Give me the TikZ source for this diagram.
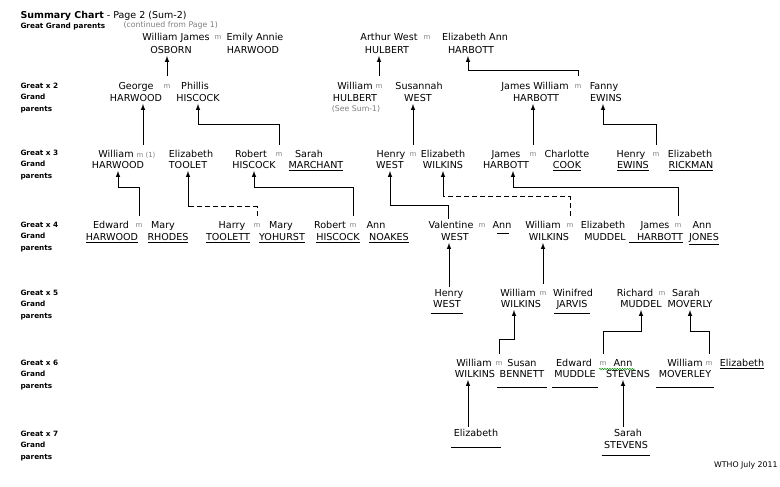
\documentclass[tikz,border=0pt]{standalone}
\usepackage{fontspec}
\setmainfont{DejaVu Sans}
\usetikzlibrary{decorations.pathmorphing}

\newcommand{\namesize}{\fontsize{9.6}{11}\selectfont}
\newcommand{\smallsize}{\fontsize{7.8}{9}\selectfont}

\begin{document}
\begin{tikzpicture}[x=1pt,y=-1pt,line width=1pt,
    person/.style={font=\namesize, inner sep=2pt, text height=7pt, text depth=0pt},
    wed/.style={font=\fontsize{7}{8}\selectfont, text=black!50, inner sep=0pt, minimum height=20pt},
    rowlabel/.style={font=\fontsize{7.3}{11.5}\selectfont\bfseries, align=left, anchor=west, inner sep=0pt},
    note/.style={font=\smallsize, text=gray, inner sep=0pt},
    link/.style={dash pattern=on 5pt off 3pt},
    spell/.style={draw=green!55!black, line width=0.5pt, decorate,
        decoration={snake, amplitude=0.6pt, segment length=2.5pt}}]
        \useasboundingbox (0,0) rectangle (780,487);
        %Title
        \node[anchor=west, inner sep=0pt] (title) at (20,16) {\fontsize{9.5}{11}\selectfont\textbf{Summary Chart} - Page 2 (Sum-2)};
        \node[rowlabel] (lab1) at (20,26) {Great Grand parents};
        \node[note, anchor=west] (contd) at (123,25) {(continued from Page 1)};
        \node[rowlabel] (lab2) at (20,98) {Great x 2\\Grand\\parents};
        \node[rowlabel] (lab3) at (20,165) {Great x 3\\Grand\\parents};
        \node[rowlabel] (lab4) at (20,237) {Great x 4\\Grand\\parents};
        \node[rowlabel] (lab5) at (20,305) {Great x 5\\Grand\\parents};
        \node[rowlabel] (lab6) at (20,375) {Great x 6\\Grand\\parents};
        \node[rowlabel] (lab7) at (20,446) {Great x 7\\Grand\\parents};
        \node[anchor=east, inner sep=0pt, font=\smallsize] (credit) at (778,465) {WTHO July 2011};
        % Great grand parents
        \node[person] (wjosborn) at (176,37) {William James};
        \node[wed] (m1) at (218,38) {m};
        \node[person] (eaharwood) at (255,37) {Emily Annie};
        \node[person] (osborn1) at (171,50) {OSBORN};
        \node[person] (harwood1) at (253,50) {HARWOOD};
        \node[person] (awhulbert) at (389,37) {Arthur West};
        \node[wed] (m2) at (427,38) {m};
        \node[person] (eaharbott) at (475,37) {Elizabeth Ann};
        \node[person] (hulbert1) at (387,50) {HULBERT};
        \node[person] (harbott1) at (471,50) {HARBOTT};
        % Great x 2
        \node[person] (george) at (136,86) {George};
        \node[wed] (m3) at (167,87) {m};
        \node[person] (phillis) at (195,86) {Phillis};
        \node[person] (harwood2) at (136,98) {HARWOOD};
        \node[person] (hiscock2) at (198,98) {HISCOCK};
        \node[person] (william2) at (355,86) {William};
        \node[wed] (m4) at (379,87) {m};
        \node[person] (susannah) at (419,86) {Susannah};
        \node[person] (hulbert2) at (355,98) {HULBERT};
        \node[person] (west2) at (418,98) {WEST};
        \node[note] (seesum) at (356,109) {(See Sum-1)};
        \node[person] (jwharbott) at (535,86) {James William};
        \node[wed] (m5) at (578,87) {m};
        \node[person] (fanny) at (604,86) {Fanny};
        \node[person] (harbott2) at (536,98) {HARBOTT};
        \node[person] (ewins2) at (606,98) {EWINS};
        \draw[-latex] (m3.north) -- (m3.north |- osborn1.south);
        \draw[-latex] (m4.north) -- (m4.north |- hulbert1.south);
        \draw[-latex] (m5.north) -- ++(0,-6) -| ([xshift=-3pt]harbott1.south);
        % Great x 3
        \node[person] (william3) at (116,154) {William};
        \node[wed] (m6) at (146,155) {m (1)};
        \node[person] (elizabeth3) at (191,154) {Elizabeth};
        \node[person] (harwood3) at (118,165) {HARWOOD};
        \node[person] (toolet3) at (188,165) {TOOLET};
        \node[person] (robert3) at (251,154) {Robert};
        \node[wed] (m7) at (279,155) {m};
        \node[person] (sarah3) at (309,154) {Sarah};
        \node[person] (hiscock3) at (254,165) {HISCOCK};
        \node[person] (marchant) at (316,165) {\underline{MARCHANT}};
        \node[person] (henry3) at (391,154) {Henry};
        \node[wed] (m8) at (413,155) {m};
        \node[person] (elizabeth3b) at (443,154) {Elizabeth};
        \node[person] (west3) at (390,165) {WEST};
        \node[person] (wilkins3) at (443,165) {WILKINS};
        \node[person] (james3) at (506,154) {James};
        \node[wed] (m9) at (533,155) {m};
        \node[person] (charlotte) at (567,154) {Charlotte};
        \node[person] (harbott3) at (506,165) {HARBOTT};
        \node[person] (cook) at (567,165) {\underline{COOK}};
        \node[person] (henry3b) at (631,154) {Henry};
        \node[wed] (m10) at (656,155) {m};
        \node[person] (elizabeth3c) at (690,154) {Elizabeth};
        \node[person] (ewins3) at (633,165) {\underline{EWINS}};
        \node[person] (rickman) at (691,165) {\underline{RICKMAN}};
        \draw[-latex] ([xshift=-3pt]m6.north) -- ([xshift=-3pt]m6.north |- harwood2.south);
        \draw[-latex] (m7.north) -- ++(0,-20) -| (hiscock2.south);
        \draw[-latex] (m8.north) -- (m8.north |- west2.south);
        \draw[-latex] (m9.north) -- (m9.north |- harbott2.south);
        \draw[-latex] (m10.north) -- ++(0,-20) -| ([xshift=-3pt]ewins2.south);
        % Great x 4
        \node[person] (edward4) at (111,225) {Edward};
        \node[wed] (m11) at (139,226) {m};
        \node[person] (mary4) at (163,225) {Mary};
        \node[person] (harwood4) at (112,237) {\underline{HARWOOD}};
        \node[person] (rhodes) at (168,237) {\underline{RHODES}};
        \node[person] (harry) at (232,225) {Harry};
        \node[wed] (m12) at (257,226) {m};
        \node[person] (mary4b) at (281,225) {Mary};
        \node[person] (toolett) at (228,237) {\underline{TOOLETT}};
        \node[person] (yohurst) at (282,237) {\underline{YOHURST}};
        \node[person] (robert4) at (330,225) {Robert};
        \node[wed] (m13) at (353,226) {m};
        \node[person] (ann4) at (376,225) {Ann};
        \node[person] (hiscock4) at (338,237) {\underline{HISCOCK}};
        \node[person] (noakes) at (389,237) {\underline{NOAKES}};
        \node[person] (valentine) at (451,225) {Valentine};
        \node[wed] (m14) at (482,226) {m};
        \node[person] (ann4b) at (502,225) {Ann};
        \node[person] (west4) at (455,237) {WEST};
        \draw ([shift={(-5pt,-2pt)}]ann4b.south) -- ([shift={(7pt,-2pt)}]ann4b.south);
        \node[person] (william4) at (543,225) {William};
        \node[wed] (m15) at (570,226) {m};
        \node[person] (elizabeth4) at (603,225) {Elizabeth};
        \node[person] (wilkins4) at (549,237) {WILKINS};
        \node[person] (muddel4) at (605,237) {MUDDEL};
        \node[person] (james4) at (655,225) {James};
        \node[wed] (m16) at (678,226) {m};
        \node[person] (ann4c) at (702,225) {Ann};
        \node[person] (harbott4) at (656,237) {\underline{\hspace{8pt}HARBOTT}};
        \node[person] (jones) at (704,237) {\underline{JONES}};
        \draw[-latex] (m11.north) -- ++(0,-28) -| (harwood3.south);
        \draw[link] (m12.north) -- ++(0,-9) coordinate (tbend) -- (tbend -| toolet3.south) coordinate (tcorner);
        \draw[-latex] (tcorner) -- (toolet3.south);
        \draw[-latex] (m13.north) -- ++(0,-28) -| (hiscock3.south);
        \draw[-latex] ([xshift=-3pt]valentine.north) -- ++(0,-14) -| (west3.south);
        \draw[link] (m15.north) -- ++(0,-19) coordinate (wbend) -- (wbend -| wilkins3.south) coordinate (wcorner);
        \draw[-latex] (wcorner) -- (wilkins3.south);
        \draw[-latex] (m16.north) -- ++(0,-28) -| ([xshift=7pt]harbott3.south);
        % Great x 5
        \node[person] (henry5) at (449,293) {Henry};
        \node[person] (west5) at (447,304) {WEST};
        \node[person] (william5) at (518,293) {William};
        \node[wed] (m17) at (543,294) {m};
        \node[person] (winifred) at (573,293) {Winifred};
        \node[person] (wilkins5) at (521,304) {WILKINS};
        \node[person] (jarvis) at (572,304) {JARVIS};
        \node[person] (richard) at (635,293) {Richard};
        \node[wed] (m18) at (662,294) {m};
        \node[person] (sarah5) at (686,293) {Sarah};
        \node[person] (muddel5) at (641,304) {MUDDEL};
        \node[person] (moverly) at (690,304) {MOVERLY};
        \draw ([yshift=-3.5pt]west5.south west) -- ([yshift=-3.5pt]west5.south east);
        \draw ([yshift=-3.5pt]jarvis.south west) -- ([yshift=-3.5pt]jarvis.south east);
        \draw[-latex] (henry5.north) -- (henry5.north |- west4.south);
        \draw[-latex] (m17.north) -- (m17.north |- wilkins4.south);
        % Great x 6
        \node[person] (william6) at (474,363) {William};
        \node[wed] (m19) at (499,364) {m};
        \node[person] (susan) at (522,363) {Susan};
        \node[person] (wilkins6) at (475,374) {WILKINS};
        \node[person] (bennett) at (522,374) {BENNETT};
        \node[person] (edward6) at (574,363) {Edward};
        \node[wed] (m20) at (603,364) {m};
        \node[person] (ann6) at (623,363) {Ann};
        \node[person] (muddle) at (575,374) {MUDDLE};
        \node[person] (stevens6) at (628,374) {STEVENS};
        \node[person] (william6b) at (685,363) {William};
        \node[wed] (m21) at (709,364) {m};
        \node[person] (elizabeth6) at (742,363) {\underline{Elizabeth}};
        \node[person] (moverley) at (685,374) {MOVERLEY};
        \draw[spell] (m20.west |- ann6.south) -- (ann6.south east);
        \draw ([yshift=-7.5pt]bennett.south west) -- ([yshift=-7.5pt]bennett.south east);
        \draw ([yshift=-7.5pt]muddle.south west) -- ([yshift=-7.5pt]muddle.south east);
        \draw ([yshift=-7.5pt]moverley.south west) -- ([yshift=-7.5pt]moverley.south east);
        \draw[-latex] (m19.north) -- ++(0,-14) -| ([xshift=-7pt]wilkins5.south);
        \draw[-latex] (m20.north) -- ++(0,-22) -| (muddel5.south);
        \draw[-latex] (m21.north) -- ++(0,-22) -| (moverly.south);
        % Great x 7
        \node[person] (elizabeth7) at (476,433) {Elizabeth};
        \node[person] (sarah7) at (628,433) {Sarah};
        \node[person] (stevens7) at (626,445) {STEVENS};
        \draw ([yshift=-8.5pt]elizabeth7.south west) -- ([yshift=-8.5pt]elizabeth7.south east);
        \draw ([yshift=-4.5pt]stevens7.south west) -- ([yshift=-4.5pt]stevens7.south east);
        \draw[-latex] ([xshift=-8pt]elizabeth7.north) -- ([xshift=-7pt]wilkins6.south);
        \draw[-latex] ([xshift=-5pt]sarah7.north) -- ([xshift=-5pt]stevens6.south);
\end{tikzpicture}
\end{document}
